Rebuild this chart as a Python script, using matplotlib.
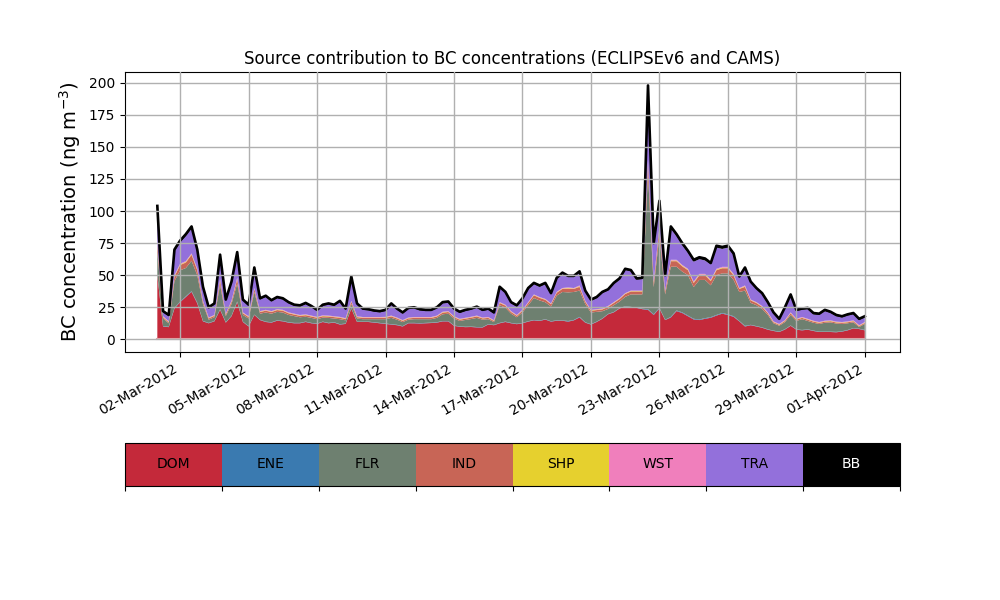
import numpy as np
import pandas as pd
import matplotlib
matplotlib.use("Agg")
import matplotlib.pyplot as plt
import matplotlib.dates as mdates
from matplotlib.colors import ListedColormap, BoundaryNorm
import matplotlib.colorbar as mcolorbar

# ---- data (6-hourly, 01-Mar-2012 00:00 .. 01-Apr-2012 00:00) ----
start, end, step = "2012-03-01", "2012-04-01", "6h"

sources = ["DOM", "ENE", "FLR", "IND", "SHP", "WST", "TRA", "BB"]
colors = ["#c4293a", "#3a7ab0", "#6e8070", "#c86556", "#e6d02e", "#f07fbc", "#9370db", "#000000"]

DOM = [50, 10, 9.5, 24, 29, 33, 37, 28, 14, 12.5,
       14, 23, 13, 18, 29, 13.5, 10, 19, 15, 13.5,
       13, 14.5, 14, 13, 12.5, 12.5, 13.5, 12.5, 12, 13.5,
       12.5, 13, 11.5, 12, 24, 13.5, 13.5, 13.5, 13, 12.5,
       12, 11.5, 11, 10, 12.5, 12.5, 12.3, 12.5, 12.7, 13,
       14, 14, 10.5, 9.8, 9.5, 9.6, 9.3, 9.2, 11.5, 11,
       12.5, 13.5, 12.5, 11.8, 12.5, 13.8, 14.8, 14.3, 15.4, 13.8,
       14.5, 14.5, 13.8, 14.8, 17, 13, 11.5, 13.5, 16, 19.5,
       21, 24, 25.5, 25, 24.5, 23.5, 23, 19, 24, 15,
       17, 22, 20.5, 18, 15.5, 15, 16, 16.8, 18.5, 20,
       19, 17.5, 14, 10, 11, 10, 9, 7.5, 6.5, 5.7,
       7.6, 10.5, 7.5, 7, 7.5, 6.5, 5.7, 5.7, 5.7, 5.5,
       6, 7, 8.5, 8, 7]

ENE = [.5, .3, .3, .5, .5, .5, .5, .5, .3, .3,
       .3, .5, .3, .3, .5, .3, .3, .3, .3, .3,
       .3, .3, .3, .3, .3, .3, .3, .3, .3, .3,
       .3, .3, .3, .3, .3, .3, .3, .3, .3, .3,
       .3, .3, .3, .3, .3, .3, .3, .3, .3, .3,
       .3, .3, .3, .3, .3, .3, .3, .3, .3, .3,
       .3, .3, .3, .3, .3, .3, .3, .3, .3, .3,
       .3, .3, .5, .3, .5, .3, .3, .3, .3, .3,
       .3, .3, .3, .3, .3, .3, .5, .5, .5, .3,
       .5, .5, .5, .5, .5, .5, .5, .5, .5, .5,
       .5, .5, .3, .5, .3, .3, .3, .3, .3, .3,
       .3, .3, .3, .3, .3, .3, .3, .3, .3, .3,
       .3, .3, .3, .3, .3]

FLR = [18.1, 5.9, 2.7, 20.9, 24.3, 22.1, 23.7, 21.5, 13.2, 2.5,
       2.9, 19.1, 4.8, 9.2, 14.0, 5.2, 5.9, 17.6, 4.7, 7.1,
       6.7, 6.6, 6.6, 5.7, 5.3, 4.4, 3.8, 3.9, 3.4, 3.1,
       3.9, 2.9, 3.9, 2.5, 3.2, 2.4, 1.9, 1.9, 2.4, 2.9,
       3.4, 4.9, 4.0, 3.1, 2.5, 2.9, 3.1, 2.9, 2.7, 3.4,
       5.2, 5.7, 5.4, 4.2, 5.3, 5.9, 7.1, 5.8, 3.9, 2.1,
       13.8, 10.9, 7.2, 5.1, 8.1, 12.5, 17.1, 15.7, 13.2, 11.5,
       19.3, 22.1, 22.3, 21.8, 20.5, 14.2, 9.1, 7.6, 5.6, 3.9,
       5.3, 5.1, 7.3, 9.7, 10.2, 11.2, 105.6, 21.2, 56.2, 19.7,
       39.1, 34.1, 31.8, 31.5, 24.7, 30.8, 29.8, 24.8, 31.0, 30.9,
       31.9, 28.3, 22.6, 27.5, 17.1, 16.3, 14.4, 11.2, 5.7, 4.6,
       5.5, 8.2, 6.5, 8.4, 6.5, 6.1, 6.0, 6.9, 7.2, 6.5,
       5.7, 5.2, 4.4, 1.3, 4.7]

IND = [5.3, 1.1, 0.8, 3.5, 4.1, 4.3, 4.7, 3.9, 1.8, 1.0,
       1.1, 3.3, 1.2, 1.8, 3.4, 1.3, 1.1, 2.4, 1.3, 1.4,
       1.3, 1.4, 1.4, 1.3, 1.2, 1.1, 1.2, 1.1, 1.1, 1.1,
       1.1, 1.1, 1.1, 1.0, 1.8, 1.1, 1.0, 1.0, 1.0, 1.0,
       1.1, 1.1, 1.0, 0.9, 1.0, 1.0, 1.0, 1.0, 1.0, 1.1,
       1.3, 1.3, 1.1, 1.0, 1.0, 1.1, 1.1, 1.0, 1.0, 0.9,
       1.7, 1.6, 1.3, 1.1, 1.4, 1.7, 2.1, 2.0, 1.9, 1.7,
       2.2, 2.4, 2.8, 2.4, 2.9, 1.8, 1.4, 1.4, 1.4, 1.6,
       1.7, 1.9, 2.2, 2.3, 2.3, 2.3, 9.8, 3.2, 6.2, 2.3,
       4.3, 4.3, 4.1, 3.9, 3.2, 3.6, 3.6, 3.3, 3.9, 4.0,
       4.0, 3.6, 2.4, 2.9, 1.9, 1.7, 1.6, 1.3, 0.8, 0.7,
       0.9, 1.3, 1.0, 1.0, 1.0, 0.9, 0.8, 0.9, 0.9, 0.8,
       0.8, 0.8, 0.9, 0.7, 0.8]

SHP = [.5, .3, .3, .5, .5, .5, .5, .5, .3, .3,
       .3, .5, .3, .3, .5, .3, .3, .3, .3, .3,
       .3, .3, .3, .3, .3, .3, .3, .3, .3, .3,
       .3, .3, .3, .3, .3, .3, .3, .3, .3, .3,
       .3, .3, .3, .3, .3, .3, .3, .3, .3, .3,
       .3, .3, .3, .3, .3, .3, .3, .3, .3, .3,
       .3, .3, .3, .3, .3, .3, .3, .3, .3, .3,
       .3, .3, .5, .3, .5, .3, .3, .3, .3, .3,
       .3, .3, .3, .3, .3, .3, .5, .5, .5, .3,
       .5, .5, .5, .5, .5, .5, .5, .5, .5, .5,
       .5, .5, .3, .5, .3, .3, .3, .3, .3, .3,
       .3, .3, .3, .3, .3, .3, .3, .3, .3, .3,
       .3, .3, .3, .3, .3]

WST = [.6, .4, .4, .6, .6, .6, .6, .6, .4, .4,
       .4, .6, .4, .4, .6, .4, .4, .4, .4, .4,
       .4, .4, .4, .4, .4, .4, .4, .4, .4, .4,
       .4, .4, .4, .4, .4, .4, .4, .4, .4, .4,
       .4, .4, .4, .4, .4, .4, .4, .4, .4, .4,
       .4, .4, .4, .4, .4, .4, .4, .4, .4, .4,
       .4, .4, .4, .4, .4, .4, .4, .4, .4, .4,
       .4, .4, .6, .4, .6, .4, .4, .4, .4, .4,
       .4, .4, .4, .4, .4, .4, .6, .6, .6, .4,
       .6, .6, .6, .6, .6, .6, .6, .6, .6, .6,
       .6, .6, .4, .6, .4, .4, .4, .4, .4, .4,
       .4, .4, .4, .4, .4, .4, .4, .4, .4, .4,
       .4, .4, .4, .4, .4]

TRA = [27.5, 3.0, 4.0, 18.5, 16.5, 19.5, 19.5, 13.5, 10, 7,
       8, 17.5, 10, 14, 18.5, 9, 8, 15, 9, 10,
       7.5, 8.5, 8, 7, 6, 6.5, 7.9, 6.5, 4.5, 7.3,
       8.5, 8, 11.5, 6.5, 18, 9, 5.6, 5.1, 4.1, 3.6,
       4.5, 8.5, 6, 5, 6.5, 6.6, 5.1, 4.6, 4.6, 5.5,
       6.5, 6.5, 5, 4.5, 5.2, 5.4, 6, 5, 5.6, 5,
       11, 9, 6, 6.5, 8, 10, 8, 8, 11.5, 7,
       10, 11, 8, 8.5, 10, 7, 7, 8.5, 12, 12,
       14, 14.5, 18, 15, 8.5, 9, 56.5, 28.5, 18.5, 11,
       24.5, 18.5, 15.5, 12.5, 15.5, 11.5, 10.5, 12, 16.5, 14,
       15, 14.5, 8, 13, 13, 10, 9, 7, 6, 3,
       9, 13, 6, 5.6, 7.5, 5, 5.5, 7.5, 5.7, 4.2,
       3.5, 4.5, 4.7, 4, 3.5]

BB = [1.5, 1, 1, 1.5, 1.5, 1.5, 1.5, 1.5, 1, 1,
      1, 1.5, 1, 1, 1.5, 1, 1, 1, 1, 1,
      1, 1, 1, 1, 1, 1, 1, 1, 1, 1,
      1, 1, 1, 1, 1, 1, 1, 1, 1, 1,
      1, 1, 1, 1, 1, 1, 1, 1, 1, 1,
      1, 1, 1, 1, 1, 1, 1, 1, 1, 1,
      1, 1, 1, 1, 1, 1, 1, 1, 1, 1,
      1, 1, 1, 1, 1, 1, 1, 1, 1, 1,
      1, 1, 1, 1, 1, 1, 1.5, 1.5, 1.5, 1,
      1.5, 1.5, 1.5, 1.5, 1.5, 1.5, 1.5, 1, 1.5, 1.5,
      1.5, 1.5, 1, 1, 1, 1, 1, 1, 1, 1,
      1, 1, 1, 1, 1, 1, 1, 1, 1, 1,
      1, 1, 1, 1, 1]

tick_dates = pd.date_range("2012-03-02", "2012-04-01", freq="3D")
x_limits = (pd.Timestamp("2012-02-28 14:00"), pd.Timestamp("2012-04-02 13:00"))
y_limits = (-9.9, 208.4)

title = "Source contribution to BC concentrations (ECLIPSEv6 and CAMS)"
ylabel = "BC concentration (ng m$^{-3}$)"

# ---- plot ----
dates = pd.date_range(start, end, freq=step)
layers = np.array([DOM, ENE, FLR, IND, SHP, WST, TRA, BB], dtype=float)
total = layers.sum(axis=0)

fig = plt.figure(figsize=(10, 6), dpi=100)
ax = fig.add_axes([0.125, 0.4133, 0.775, 0.4667])
ax.stackplot(dates, layers, colors=colors, linewidth=0)
ax.plot(dates, total, color="k", lw=1.9)
ax.plot(dates, np.zeros(len(dates)), color="#e4a0a6", lw=1.5)
ax.set_axisbelow(False)
ax.grid(True, color="#b0b0b0", lw=1.0)
ax.set_xticks(tick_dates)
ax.xaxis.set_major_formatter(mdates.DateFormatter("%d-%b-%Y"))
for lab in ax.get_xticklabels():
    lab.set_rotation(30)
    lab.set_ha("right")
ax.set_yticks(np.arange(0, 201, 25))
ax.set_xlim(*x_limits)
ax.set_ylim(*y_limits)
ax.set_title(title, fontsize=12)
ax.set_ylabel(ylabel, fontsize=14)

# legend strip (colour bar)
cax = fig.add_axes([0.125, 0.19, 0.775, 0.0717])
cmap = ListedColormap(colors)
norm = BoundaryNorm(np.arange(len(sources) + 1), cmap.N)
cb = mcolorbar.ColorbarBase(cax, cmap=cmap, norm=norm, orientation="horizontal",
                            ticks=np.arange(len(sources) + 1))
cb.ax.set_xticklabels([""] * (len(sources) + 1))
for i, name in enumerate(sources):
    cax.text(i + 0.5, 0.5, name, ha="center", va="center",
             color="white" if name == "BB" else "black", fontsize=10,
             transform=cax.transData)

fig.savefig("out.png", dpi=100)
